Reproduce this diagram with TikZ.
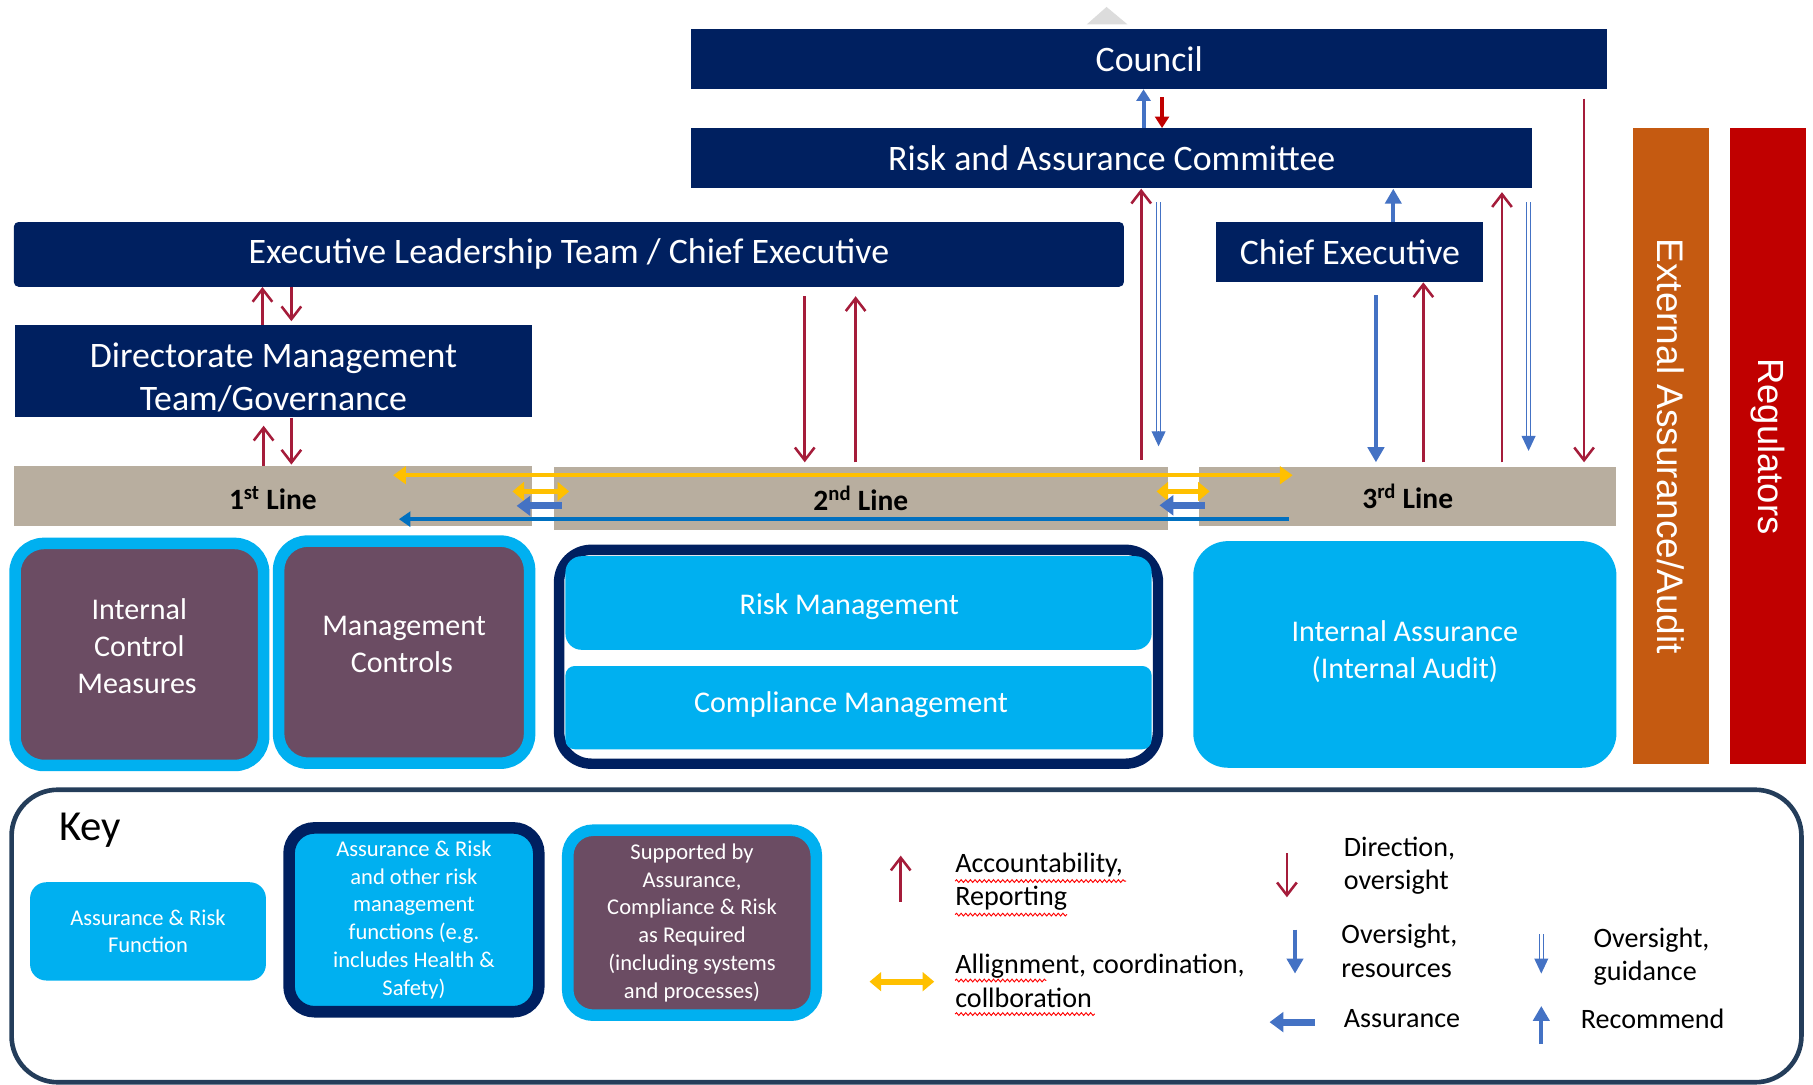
\documentclass[tikz,border=0pt]{standalone}
\usepackage{fontspec}
\setmainfont{Carlito}
\newfontfamily\arialf{Liberation Sans}
\usetikzlibrary{arrows.meta,decorations.pathmorphing}
\definecolor{navy}{HTML}{002060}
\definecolor{lblue}{HTML}{00B0F0}
\definecolor{plum}{HTML}{6B4C63}
\definecolor{tanbar}{HTML}{B8AE9F}
\definecolor{maroon}{HTML}{A51C3A}
\definecolor{ablue}{HTML}{4472C4}
\definecolor{lineblue}{HTML}{0070C0}
\definecolor{gold}{HTML}{FFC000}
\definecolor{orng}{HTML}{C55A11}
\definecolor{regred}{HTML}{C00000}
\definecolor{keyframe}{HTML}{243D5A}
\definecolor{tri}{HTML}{DCDCDC}
\newcommand\dblarr[2]{%
  \draw[ablue,line width=1.1pt] ([xshift=-1.8pt]#1) -- ([xshift=-1.8pt,yshift=10pt]#2);
  \draw[ablue,line width=1.1pt] ([xshift=1.8pt]#1) -- ([xshift=1.8pt,yshift=10pt]#2);
  \draw[ablue,line width=1pt,-{Triangle[length=13pt,width=12pt]}] ([yshift=13pt]#2) -- (#2);
}
\newcommand\lowerby[1]{\rule{0pt}{#1}}
\newcommand\raiseby[1]{\rule[-#1]{0pt}{#1}}
\begin{document}
\begin{tikzpicture}[x=1pt,y=-1pt,
  navybox/.style={fill=navy,text=white,inner sep=0pt,font=\fontsize{31}{37}\selectfont,align=center},
  linebar/.style={fill=tanbar,inner sep=0pt,text=black,font=\bfseries\fontsize{25.5}{28}\selectfont},
  plumbox/.style={fill=plum,draw=lblue,line width=10pt,rounded corners=25pt,text=white,align=center,inner sep=0pt,font=\fontsize{26}{32}\selectfont},
  bluebox/.style={fill=lblue,text=white,align=center,inner sep=0pt,font=\fontsize{26}{32}\selectfont},
  sidebar/.style={rotate=-90,text=white,inner sep=0pt},
  keybox/.style={text=white,align=center,inner sep=0pt,font=\fontsize{19.5}{24}\selectfont},
  legtext/.style={anchor=west,align=left,inner sep=0pt,text=black,font=\fontsize{24.3}{29}\selectfont},
  acc/.style={draw=maroon,line width=2.2pt,-{Straight Barb[length=11pt,width=17pt,line width=2.2pt]}},
  bluearr/.style={draw=ablue,line width=3.5pt,-{Triangle[length=13pt,width=14pt]}},
  goldarr/.style={draw=gold,line width=3.5pt,{Triangle[length=11pt,width=15pt]}-{Triangle[length=11pt,width=15pt]}},
  goldblock/.style={draw=gold,line width=5pt,{Triangle[length=10pt,width=16pt]}-{Triangle[length=10pt,width=16pt]}},
  blueblock/.style={draw=ablue,line width=6pt,-{Triangle[length=12pt,width=17pt]}},
  squig/.style={draw=red,line width=0.8pt,decorate,decoration={snake,amplitude=1.2pt,segment length=4pt}}
]
\useasboundingbox (0,0) rectangle (1568,938);

% top grey triangle
\fill[tri] (940,21) -- (957,6) -- (975,21) -- cycle;

% top boxes
\node[navybox,minimum width=792pt,minimum height=52pt] (council) at (994,51) {Council};
\node[navybox,minimum width=727pt,minimum height=52pt] (rac) at (961.5,137) {Risk and Assurance Committee};
\node[navybox,minimum width=960pt,minimum height=56pt,rounded corners=4pt] (elt) at (492,220) {Executive Leadership Team / Chief Executive};
\node[navybox,minimum width=231pt,minimum height=52pt] (ce) at (1167.5,218) {Chief Executive};
\node[navybox,minimum width=447pt,minimum height=80pt] (dmt) at (236.5,321) {\lowerby{32pt}Directorate Management\\Team/Governance};

% line bars
\node[linebar,minimum width=448pt,minimum height=52pt] (l1) at (236,429) {\lowerby{24pt}1\textsuperscript{st} Line};
\node[linebar,minimum width=531pt,minimum height=54pt] (l2) at (744.5,431) {\lowerby{21pt}2\textsuperscript{nd} Line};
\node[linebar,minimum width=361pt,minimum height=51pt] (l3) at (1217.5,429.5) {\lowerby{20pt}3\textsuperscript{rd} Line};

% side bars
\node[sidebar,fill=orng,minimum width=550pt,minimum height=66pt,font=\arialf\fontsize{32}{36}\selectfont] (ext) at (1445,386) {External Assurance/Audit};
\node[sidebar,fill=regred,minimum width=550pt,minimum height=66pt,font=\arialf\fontsize{31.5}{36}\selectfont] (reg) at (1529,386) {Regulators};

% lower boxes
\node[plumbox,minimum width=215pt,minimum height=192pt] (icm) at (120.5,566) {Internal\\Control\\Measures\raiseby{14pt}\rule{4pt}{0pt}};
\node[plumbox,minimum width=217pt,minimum height=192pt] (mc) at (349.5,564) {Management\\Controls\raiseby{14pt}\rule{4pt}{0pt}};
\node[draw=navy,line width=9pt,fill=white,rounded corners=28pt,minimum width=518pt,minimum height=185pt] (frame2) at (742.5,568) {};
\node[bluebox,rounded corners=14pt,minimum width=507pt,minimum height=81pt] (rm) at (742.5,521.5) {\lowerby{24pt}Risk Management\rule{16pt}{0pt}};
\node[bluebox,rounded corners=8pt,minimum width=507pt,minimum height=72pt] (cm) at (742.5,612) {Compliance Management\raiseby{10pt}\rule{13pt}{0pt}};
\node[bluebox,rounded corners=30pt,minimum width=366pt,minimum height=196pt] (ia) at (1215,566) {Internal Assurance\\(Internal Audit)\raiseby{8pt}};

% arrows between boxes
\draw[acc] (227,0 |- dmt.north) -- (227,0 |- elt.south);
\draw[acc,shorten >=3pt] (252,0 |- elt.south) -- (252,0 |- dmt.north);
\draw[acc,shorten >=7pt] (228,0 |- l1.north) -- (228,0 |- dmt.south);
\draw[acc,shorten >=1pt] (252,0 |- dmt.south) -- (252,0 |- l1.north);
\draw[acc,shorten <=8pt,shorten >=4pt] (696,0 |- elt.south) -- (696,0 |- l2.north);
\draw[acc,shorten <=4pt,shorten >=8pt] (740,0 |- l2.north) -- (740,0 |- elt.south);
\draw[acc,shorten <=6pt] (987,0 |- l2.north) -- (987,0 |- rac.south);
\coordinate (d1a) at (1002,175);
\coordinate (d1b) at (1002,386);
\dblarr{d1a}{d1b}
\draw[bluearr] (1205,0 |- ce.north) -- (1205,0 |- rac.south);
\draw[bluearr,shorten <=11pt,shorten >=4pt] (1190,0 |- ce.south) -- (1190,0 |- l3.north);
\draw[acc,shorten <=4pt] (1231,0 |- l3.north) -- (1231,0 |- ce.south);
\draw[acc,shorten <=4pt,shorten >=3pt] (1299,0 |- l3.north) -- (1299,0 |- rac.south);
\coordinate (d2a) at (1322,175);
\coordinate (d2b) at (1322,390);
\dblarr{d2a}{d2b}
\draw[acc,shorten <=8pt,shorten >=4pt] (1370,0 |- council.south) -- (1370,0 |- l3.north);
\draw[draw=ablue,line width=3.5pt,-{Triangle[length=10pt,width=12pt]}] (989,0 |- rac.north) -- (989,0 |- council.south);
\draw[draw=regred,line width=3.5pt,-{Triangle[length=10pt,width=12pt]},shorten <=7pt] (1005,0 |- council.south) -- (1005,0 |- rac.north);

% horizontal arrows
\coordinate (ya) at (340,411);
\coordinate (yb) at (1118,411);
\draw[goldarr] (ya) -- (yb);
\coordinate (ba) at (1115,449);
\coordinate (bb) at (345,449);
\draw[draw=lineblue,line width=3.5pt,-{Triangle[length=10pt,width=13pt]}] (ba) -- (bb);
\draw[goldblock] (l1.east |- 0,425) ++(-17,0) -- ++(49,0);
\draw[blueblock] (l2.west |- 0,437.5) ++(7,0) -- ++(-39,0);
\draw[goldblock] (l2.east |- 0,425) ++(-10,0) -- ++(46,0);
\draw[blueblock] (l3.west |- 0,437) ++(5,0) -- ++(-39,0);

% key
\node[draw=keyframe,line width=4pt,rounded corners=40pt,minimum width=1548pt,minimum height=253pt] (key) at (784,809.5) {};
\node[inner sep=0pt,font=\fontsize{37}{40}\selectfont] (keylbl) at (78,718) {Key};
\node[keybox,fill=lblue,rounded corners=14pt,minimum width=204pt,minimum height=85pt] (k1) at (128,805.5) {Assurance \& Risk\\Function};
\node[keybox,fill=lblue,draw=navy,line width=10pt,rounded corners=22pt,minimum width=216pt,minimum height=159pt] (k2) at (358,795.5) {Assurance \& Risk\\and other risk\\management\\functions (e.g.\\includes Health \&\\Safety)};
\node[keybox,fill=plum,draw=lblue,line width=10pt,rounded corners=22pt,minimum width=215pt,minimum height=160pt] (k3) at (598.5,798) {Supported by\\Assurance,\\Compliance \& Risk\\as Required\\(including systems\\and processes)};

% legend arrows
\coordinate (g1a) at (779,780); \coordinate (g1b) at (779,740);
\draw[acc] (g1a) -- (g1b);
\coordinate (g2a) at (752,849); \coordinate (g2b) at (808,849);
\draw[goldblock] (g2a) -- (g2b);
\coordinate (g3a) at (1113,738); \coordinate (g3b) at (1113,776);
\draw[acc] (g3a) -- (g3b);
\coordinate (g4a) at (1120,804); \coordinate (g4b) at (1120,842);
\draw[bluearr] (g4a) -- (g4b);
\coordinate (g5a) at (1137,884); \coordinate (g5b) at (1098,884);
\draw[blueblock] (g5a) -- (g5b);
\coordinate (g6a) at (1333,808); \coordinate (g6b) at (1333,842);
\dblarr{g6a}{g6b}
\coordinate (g7a) at (1333,903); \coordinate (g7b) at (1333,870);
\draw[bluearr] (g7a) -- (g7b);

% legend texts
\node[legtext] (t1) at (826,762.5) {Accountability,\\Reporting};
\node[legtext] (t2) at (826,848.5) {Allignment, coordination,\\collboration};
\node[legtext] (t3) at (1162,748.5) {Direction,\\oversight};
\node[legtext] (t4) at (1160,822.5) {Oversight,\\resources};
\node[legtext] (t5) at (1162,881) {Assurance};
\node[legtext] (t6) at (1378,827.5) {Oversight,\\guidance};
\node[legtext] (t7) at (1367,881) {Recommend};

% spell-check squiggles
\draw[squig] (826,762) -- (974,762);
\draw[squig] (826,791) -- (923,791);
\draw[squig] (826,848) -- (905,848);
\draw[squig] (826,877) -- (947,877);
\end{tikzpicture}
\end{document}
